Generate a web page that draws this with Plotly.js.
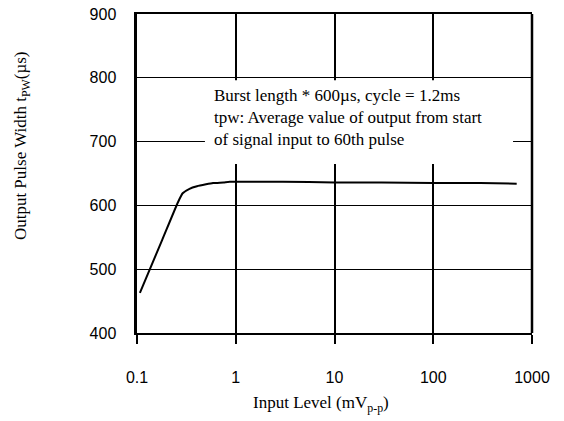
<!DOCTYPE html>
<html>
<head>
<meta charset="utf-8">
<script src="https://cdn.plot.ly/plotly-3.0.1.min.js"></script>
<style>html,body{margin:0;padding:0;background:#fff;}#chart{width:564px;height:421px;}</style>
</head>
<body>
<div id="chart"></div>
<script>
const inputLevel = [0.107, 0.18, 0.26, 0.29, 0.34, 0.405, 0.5, 0.59, 0.75, 0.87, 1.5, 3, 10, 30, 100, 300, 700];
const pulseWidth = [463, 546, 605, 619, 626, 630, 633, 635, 636, 637, 637, 637, 636, 636, 635, 635, 634];
const xTickVals = [0.1, 1, 10, 100, 1000];
const xTickText = ['0.1', '1', '10', '100', '1000'];
const yTickVals = [400, 500, 600, 700, 800, 900];
const noteLines = ['Burst length * 600µs, cycle = 1.2ms', 'tpw: Average value of output from start', 'of signal input to 60th pulse'];

const trace = {
  x: inputLevel, y: pulseWidth, type: 'scatter', mode: 'lines',
  line: {color: '#000', width: 2, shape: 'spline', smoothing: 0.5},
  hoverinfo: 'skip'
};

const serif = 'Liberation Serif, Times New Roman, serif';
const sans = 'Liberation Sans, Arial, sans-serif';

const layout = {
  width: 564, height: 421,
  margin: {l: 137, r: 32, t: 14, b: 88},
  paper_bgcolor: '#fff', plot_bgcolor: '#fff',
  showlegend: false,
  font: {family: sans, color: '#000', size: 16},
  xaxis: {
    type: 'log', range: [-1, 3],
    tickvals: xTickVals, ticktext: xTickText,
    showgrid: true, gridcolor: '#000', gridwidth: 2,
    showline: true, linecolor: '#000', linewidth: 2, mirror: true,
    ticks: 'outside', ticklen: 9, tickwidth: 2, tickcolor: '#000',
    ticklabelstandoff: 20,
    zeroline: false,
    tickfont: {family: sans, size: 16, color: '#000'}
  },
  yaxis: {
    range: [400, 900],
    tickvals: yTickVals,
    showgrid: true, gridcolor: '#000', gridwidth: 1,
    showline: true, linecolor: '#000', linewidth: 3.5,
    ticks: '', ticklabelstandoff: 14,
    zeroline: false,
    tickfont: {family: sans, size: 16, color: '#000'}
  },
  shapes: [
    {type: 'rect', xref: 'paper', yref: 'paper', x0: 0.172, x1: 0.952, y0: 0.53, y1: 0.792,
     fillcolor: '#fff', line: {width: 0}, layer: 'above'},
    {type: 'line', xref: 'paper', yref: 'paper', x0: 1, x1: 1, y0: 0, y1: 1,
     line: {color: '#000', width: 2.5}, layer: 'above'}
  ],
  annotations: [
    {xref: 'paper', yref: 'paper', x: 0.19, y: 0.677, xanchor: 'left', yanchor: 'middle',
     align: 'left', showarrow: false, text: noteLines.join('<br>'),
     font: {family: serif, size: 17, color: '#000'}},
    {xref: 'paper', yref: 'paper', x: -0.291, y: 0.586, xanchor: 'center', yanchor: 'middle',
     textangle: -90, showarrow: false, text: 'Output Pulse Width t<sub>PW</sub>(µs)',
     font: {family: serif, size: 17, color: '#000'}},
    {xref: 'paper', yref: 'paper', x: 0.466, y: -0.223, xanchor: 'center', yanchor: 'middle',
     showarrow: false, text: 'Input Level (mV<sub>p-p</sub>)',
     font: {family: serif, size: 17, color: '#000'}}
  ]
};

Plotly.newPlot('chart', [trace], layout, {staticPlot: true, displayModeBar: false});
</script>
</body>
</html>
